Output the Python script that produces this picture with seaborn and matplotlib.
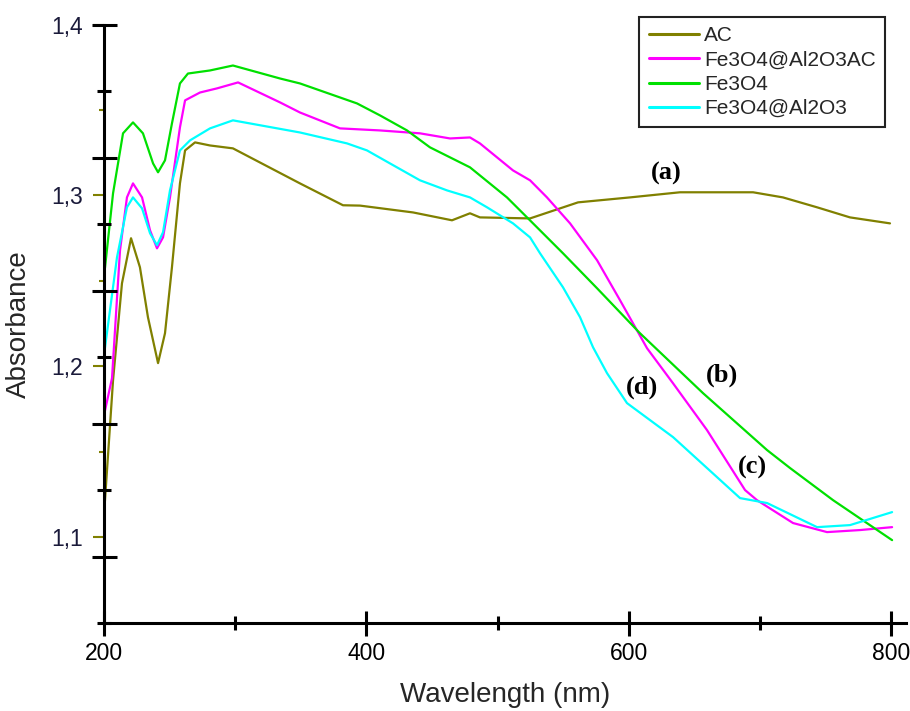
import numpy as np
import pandas as pd
import matplotlib
matplotlib.use("Agg")
import matplotlib.pyplot as plt
from matplotlib.ticker import FixedLocator, FuncFormatter
import seaborn as sns

# ---- data ----
ac_x = [200, 206.9, 213.7, 220.6, 227.4, 233.5, 241.2, 246.5, 251.8, 257.9, 261.8, 269.4, 280.8,
        298.3, 349.4, 382.2, 395.2, 435.6, 465.3, 479, 486.6, 524.8, 561.4, 601, 639.1, 677.2,
        694.8, 717.6, 743.6, 768.7, 799.2]
ac_y = [1.1129, 1.1918, 1.2485, 1.2749, 1.2579, 1.2287, 1.2018, 1.2193, 1.2579, 1.307, 1.3263, 1.331,
        1.3292, 1.3275, 1.307, 1.2942, 1.294, 1.290, 1.2854, 1.2895, 1.2871, 1.2865, 1.2959, 1.2988,
        1.3018, 1.3018, 1.3018, 1.2988, 1.293, 1.2871, 1.2836]

fac_x = [200, 206.1, 212.2, 217.5, 222.1, 229, 235.1, 240.4, 245, 250.3, 257.9, 261.8, 273.2, 286.1,
         302.2, 334.2, 349.4, 379.9, 410.4, 440.9, 463.8, 479, 486.6, 511.8, 524.8, 537.7, 555.3,
         575.9, 593.4, 614, 633.8, 659.7, 688.7, 697.8, 725.3, 751.2, 776.4, 800.8]
fac_y = [1.1713, 1.193, 1.2678, 1.2988, 1.307, 1.2988, 1.2795, 1.269, 1.2754, 1.2988, 1.3398, 1.3556,
         1.3602, 1.3626, 1.3661, 1.3544, 1.3485, 1.3392, 1.338, 1.3363, 1.3333, 1.3339, 1.3304, 1.3146,
         1.3088, 1.2988, 1.2836, 1.262, 1.2386, 1.2105, 1.19, 1.1626, 1.1275, 1.1216, 1.1082, 1.1029,
         1.1041, 1.1058]

fe_x = [200, 200.8, 206.9, 214.5, 222.1, 229.7, 237.4, 241.2, 246.5, 251.8, 257.9, 264, 280.8, 298.3,
        334.2, 349.4, 392.9, 410.4, 431, 448.5, 479, 507.2, 522.5, 549.9, 575.9, 608.6, 656.7, 705.5,
        723, 755.8, 800.8]
fe_y = [1.2532, 1.2579, 1.3012, 1.3363, 1.3427, 1.3363, 1.3187, 1.3135, 1.3205, 1.3421, 1.3655, 1.3713,
        1.3731, 1.376, 1.3684, 1.3655, 1.3538, 1.3468, 1.338, 1.3281, 1.3164, 1.2988, 1.2871, 1.2661,
        1.2456, 1.2193, 1.1842, 1.1509, 1.1404, 1.1216, 1.0982]

fa_x = [200, 209.9, 217.5, 222.1, 229, 235.1, 240.4, 245, 250.3, 257.9, 265.6, 280.8, 298.3, 349.4,
        385.3, 400.5, 418, 440.9, 461.5, 479, 492, 511.8, 524.8, 532.4, 549.9, 562.9, 572.8, 583.5,
        598.7, 633.8, 684.9, 705.5, 743.6, 768.7, 800.8]
fa_y = [1.2064, 1.2637, 1.293, 1.2988, 1.2924, 1.2778, 1.2708, 1.2784, 1.3029, 1.3263, 1.3322, 1.3392,
        1.3439, 1.3368, 1.3304, 1.3263, 1.3187, 1.3088, 1.3029, 1.2988, 1.293, 1.2836, 1.2754, 1.2661,
        1.2462, 1.2287, 1.2111, 1.1959, 1.1784, 1.1585, 1.1228, 1.1199, 1.1058, 1.107, 1.1146]

series_names = ["AC", "Fe3O4@Al2O3AC", "Fe3O4", "Fe3O4@Al2O3"]
series_colors = ["#808000", "#FF00FF", "#00E000", "#00FFFF"]
y_ticks = [1.1, 1.2, 1.3, 1.4]
x_ticks = [200, 400, 600, 800]
annot_labels = ["(a)", "(b)", "(c)", "(d)"]
annot_x = [628.5, 671.2, 694.0, 610.2]
annot_y = [1.3129, 1.1947, 1.1409, 1.1877]

frames = []
for name, xs, ys in zip(series_names, [ac_x, fac_x, fe_x, fa_x], [ac_y, fac_y, fe_y, fa_y]):
    frames.append(pd.DataFrame({"Wavelength": xs, "Absorbance": ys, "Sample": name}))
df = pd.concat(frames, ignore_index=True)

sns.set_theme(style="ticks")
plt.rcParams["font.family"] = ["Liberation Sans", "DejaVu Sans"]

fig = plt.figure(figsize=(9.10, 7.11), dpi=100)
ax = fig.add_axes([104 / 910, 1 - 623 / 711, 802 / 910, 598.5 / 711])

sns.lineplot(data=df, x="Wavelength", y="Absorbance", hue="Sample", hue_order=series_names,
             palette=dict(zip(series_names, series_colors)), estimator=None, sort=False,
             linewidth=1.6, ax=ax, legend=False)

ax.set_xlim(200, 811.4)
ax.set_ylim(1.0497, 1.4)

# spines
for s in ["top", "right"]:
    ax.spines[s].set_visible(False)
for s in ["left", "bottom"]:
    ax.spines[s].set_linewidth(2.2)
    ax.spines[s].set_color("black")

# x ticks (crossing)
ax.xaxis.set_major_locator(FixedLocator(x_ticks))
ax.xaxis.set_minor_locator(FixedLocator([300, 500, 700]))
ax.tick_params(axis="x", which="major", direction="inout", length=18, width=2.2, color="black",
               labelsize=16.5, pad=5, labelcolor="black")
ax.tick_params(axis="x", which="minor", direction="inout", length=9.5, width=2.2, color="black")

# y ticks (olive, outward, labelled with comma decimals)
ax.yaxis.set_major_locator(FixedLocator(y_ticks))
ax.yaxis.set_minor_locator(FixedLocator([1.15, 1.25, 1.35]))
ax.yaxis.set_major_formatter(FuncFormatter(lambda v, p: f"{v:.1f}".replace(".", ",")))
ax.tick_params(axis="y", which="major", direction="out", length=8, width=1.5, color="#808000",
               labelsize=16.5, pad=7, labelcolor="#1a1a3a")
ax.tick_params(axis="y", which="minor", direction="out", length=3.5, width=1.5, color="#808000")

ax.set_xlabel("Wavelength (nm)", fontsize=20, labelpad=12)
ax.set_ylabel("Absorbance", fontsize=20, labelpad=14)

# secondary black crossing ticks on the left axis
ax2 = ax.twinx()
ax2.set_ylim(0, 9)
for s in ax2.spines.values():
    s.set_visible(False)
ax2.yaxis.set_ticks_position("left")
ax2.yaxis.set_major_locator(FixedLocator([1, 3, 5, 7, 9]))
ax2.yaxis.set_minor_locator(FixedLocator([0, 2, 4, 6, 8]))
ax2.tick_params(axis="y", which="major", direction="inout", length=18, width=2.2, color="black",
                labelleft=False, labelright=False)
ax2.tick_params(axis="y", which="minor", direction="inout", length=9.5, width=2.2, color="black",
                labelleft=False, labelright=False)
ax2.patch.set_visible(False)

# annotations
for t, xx, yy in zip(annot_labels, annot_x, annot_y):
    ax.text(xx, yy, t, fontsize=19, fontweight="bold", family=["Liberation Serif"],
            ha="center", va="center", color="black")

# legend
handles = [plt.Line2D([], [], color=c, linewidth=2.2) for c in series_colors]
leg = ax.legend(handles, series_names, loc="upper right", bbox_to_anchor=(0.974, 1.0125),
                borderaxespad=0, fontsize=15, handlelength=2.4, handletextpad=0.25,
                labelspacing=0.25, frameon=True, fancybox=False, framealpha=1,
                borderpad=0.45)
leg.get_frame().set_edgecolor("#222222")
leg.get_frame().set_linewidth(1.5)

fig.savefig("out.png", dpi=100)
